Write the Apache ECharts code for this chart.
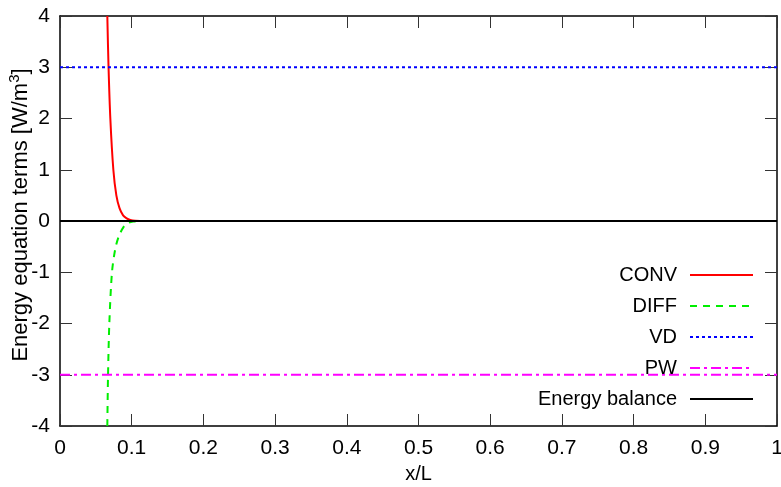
<!DOCTYPE html>
<html>
<head>
<meta charset="utf-8">
<script src="https://cdn.jsdelivr.net/npm/echarts@6/dist/echarts.min.js"></script>
<style>html,body{margin:0;padding:0;background:#fff;}#c{width:781px;height:487px;}</style>
</head>
<body>
<div id="c"></div>
<script>
// Data
var xTicks = [0, 0.1, 0.2, 0.3, 0.4, 0.5, 0.6, 0.7, 0.8, 0.9, 1];
var yTicks = [-4, -3, -2, -1, 0, 1, 2, 3, 4];
var convX = [0.066, 0.0677, 0.0702, 0.0744, 0.0786, 0.083, 0.088, 0.093, 0.098, 0.105, 0.12, 1.0];
var convY = [4.0, 3.0, 2.0, 1.0, 0.5, 0.25, 0.11, 0.05, 0.02, 0.005, 0.0, 0.0];
var diffX = [0.066, 0.067, 0.0688, 0.0725, 0.077, 0.082, 0.089, 0.095, 0.102, 0.11, 1.0];
var diffY = [-4.0, -3.0, -2.0, -1.0, -0.55, -0.3, -0.11, -0.04, -0.01, 0.0, 0.0];
var vdX = [0, 1];
var vdY = [3, 3];
var pwX = [0, 1];
var pwY = [-3, -3];
var ebX = [0, 1];
var ebY = [0, 0];
var names = ['CONV', 'DIFF', 'VD', 'PW', 'Energy balance'];

function pairs(xs, ys) { return xs.map(function (x, i) { return [x, ys[i]]; }); }

var FONT = 'Liberation Sans';
var FS = 20;
var chart = echarts.init(document.getElementById('c'));

var legendTops = [265, 296, 327, 358, 389];
var legends = names.map(function (n, i) {
  return {
    data: [n], right: 27, top: legendTops[i], align: 'right', orient: 'vertical',
    itemWidth: 63, itemHeight: 16, selectedMode: false, padding: 0,
    itemStyle: { opacity: 0 },
    textStyle: { fontFamily: FONT, fontSize: FS, color: '#000', padding: [0, 8, 0, 0] }
  };
});

function axisBase(extra) {
  var base = {
    type: 'value', splitLine: { show: false },
    axisLine: { show: true, onZero: false, lineStyle: { color: '#000', width: 1.5 } },
    axisTick: { show: true, inside: true, length: 12, lineStyle: { color: '#333', width: 1 } }
  };
  for (var k in extra) base[k] = extra[k];
  return base;
}

chart.setOption({
  animation: false,
  backgroundColor: '#fff',
  grid: { left: 60, right: 4, top: 16, bottom: 61, containLabel: false, outerBoundsMode: 'none' },
  legend: legends,
  xAxis: [
    axisBase({ min: 0, max: 1, interval: 0.1, position: 'bottom',
      name: 'x/L', nameLocation: 'middle', nameGap: 38, nameMoveOverlap: false,
      nameTextStyle: { fontFamily: FONT, fontSize: FS, color: '#000' },
      axisLabel: { fontFamily: FONT, fontSize: 21, color: '#000', margin: 12,
        formatter: function (v) { return String(Math.round(v * 10) / 10); } } }),
    axisBase({ min: 0, max: 1, interval: 0.1, position: 'top', axisLabel: { show: false } })
  ],
  yAxis: [
    axisBase({ min: -4, max: 4, interval: 1, position: 'left',
      name: '{a|Energy equation terms [W/m}{s|3}{a|]}', nameLocation: 'middle', nameGap: 25, nameRotate: 90,
      nameMoveOverlap: false,
      nameTextStyle: { fontFamily: FONT, fontSize: 22, color: '#000', padding: [0, 0, 0, 12],
        rich: { a: { fontFamily: FONT, fontSize: 22, color: '#000', lineHeight: 28 },
                s: { fontFamily: FONT, fontSize: 15, color: '#000', verticalAlign: 'top', lineHeight: 15 } } },
      axisLabel: { fontFamily: FONT, fontSize: 21, color: '#000', margin: 10 } }),
    axisBase({ min: -4, max: 4, interval: 1, position: 'right', axisLabel: { show: false } })
  ],
  series: [
    { name: 'CONV', type: 'line', data: pairs(convX, convY), symbol: 'none', smooth: 0.3, clip: true,
      lineStyle: { color: '#ff0000', width: 2 }, itemStyle: { color: '#ff0000' } },
    { name: 'DIFF', type: 'line', data: pairs(diffX, diffY), symbol: 'none', smooth: 0.3, clip: true,
      lineStyle: { color: '#00ee00', width: 2, type: [7, 6] }, itemStyle: { color: '#00ee00' } },
    { name: 'VD', type: 'line', data: pairs(vdX, vdY), symbol: 'none',
      lineStyle: { color: '#0000ff', width: 2, type: [3, 3] }, itemStyle: { color: '#0000ff' } },
    { name: 'PW', type: 'line', data: pairs(pwX, pwY), symbol: 'none',
      lineStyle: { color: '#ff00ff', width: 2, type: [10, 4, 3, 4] }, itemStyle: { color: '#ff00ff' } },
    { name: 'Energy balance', type: 'line', data: pairs(ebX, ebY), symbol: 'none',
      lineStyle: { color: '#000', width: 2 }, itemStyle: { color: '#000' } }
  ]
});
</script>
</body>
</html>
